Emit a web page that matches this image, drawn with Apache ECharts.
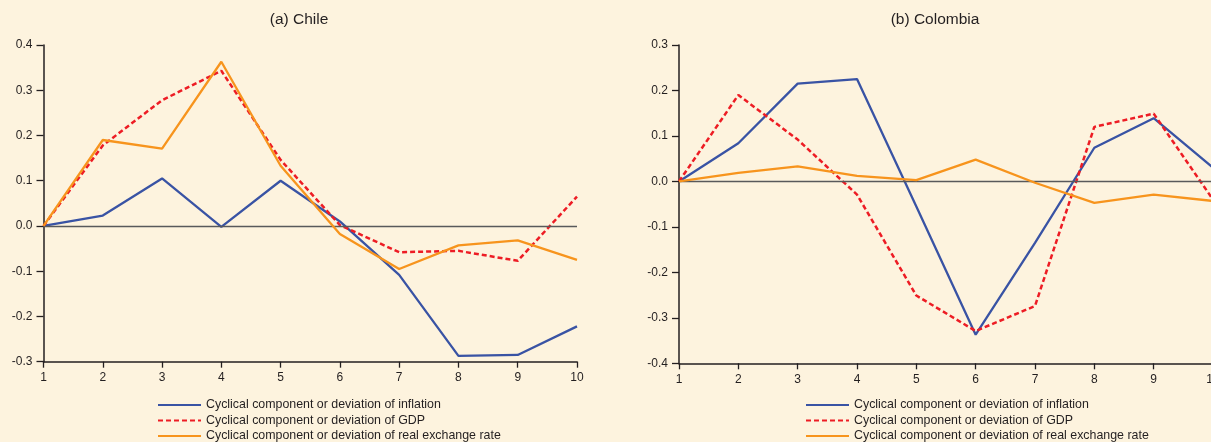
<!DOCTYPE html>
<html>
<head>
<meta charset="utf-8">
<script src="https://cdn.jsdelivr.net/npm/echarts@6/dist/echarts.min.js"></script>
<style>
html,body{margin:0;padding:0;background:#fdf3de;}
#c{width:1211px;height:442px;}
</style>
</head>
<body>
<div id="c"></div>
<script>
const periods = [1, 2, 3, 4, 5, 6, 7, 8, 9, 10];
const seriesNames = [
  'Cyclical component or deviation of inflation',
  'Cyclical component or deviation of GDP',
  'Cyclical component or deviation of real exchange rate'
];
const panelTitles = ['(a) Chile', '(b) Colombia'];

const chileInflation = [0, 0.023, 0.105, -0.002, 0.100, 0.010, -0.108, -0.287, -0.285, -0.222];
const chileGDP       = [0, 0.178, 0.278, 0.343, 0.146, 0.002, -0.058, -0.055, -0.077, 0.065];
const chileRER       = [0, 0.190, 0.171, 0.363, 0.133, -0.018, -0.095, -0.043, -0.032, -0.075];

const colInflation = [0, 0.084, 0.215, 0.225, -0.055, -0.337, -0.135, 0.074, 0.139, 0.030];
const colGDP       = [0, 0.190, 0.092, -0.029, -0.251, -0.329, -0.274, 0.120, 0.149, -0.040];
const colRER       = [0, 0.019, 0.033, 0.012, 0.003, 0.048, -0.003, -0.047, -0.029, -0.043];

const chileYTicks = { min: -0.3, max: 0.4 };
const colYTicks = { min: -0.4, max: 0.3 };

const colors = ['#3953a4', '#ed1c24', '#f7941d'];
const textColor = '#231f20';
const font = 'Liberation Sans, Arial, Helvetica, sans-serif';

function pairs(vals) { return periods.map((p, i) => [p, vals[i]]); }

function mkX(idx) {
  return {
    type: 'value', gridIndex: idx, min: 1, max: 10, interval: 1,
    axisLine: { onZero: false, lineStyle: { color: textColor, width: 1.5 } },
    axisTick: { length: 6, lineStyle: { color: textColor, width: 1.3 } },
    axisLabel: { margin: 10, color: textColor, fontSize: 12, fontFamily: font, hideOverlap: false },
    splitLine: { show: false }
  };
}
function mkY(idx, r) {
  return {
    type: 'value', gridIndex: idx, min: r.min, max: r.max, interval: 0.1,
    axisLine: { show: true, lineStyle: { color: textColor, width: 1.5 } },
    axisTick: { show: true, length: 7, lineStyle: { color: textColor, width: 1.3 } },
    axisLabel: { margin: 11, color: textColor, fontSize: 12, fontFamily: font,
      formatter: v => (Math.abs(v) < 1e-9 ? 0 : v).toFixed(1) },
    splitLine: { show: false }
  };
}
function mkSeries(idx, name, vals, k, withZero) {
  const s = {
    type: 'line', name: name, xAxisIndex: idx, yAxisIndex: idx,
    data: pairs(vals), symbol: 'none', smooth: false, z: 3 + k,
    lineStyle: { color: colors[k], width: k === 1 ? 2.5 : 2.3, type: k === 1 ? [5, 3] : 'solid' },
    itemStyle: { color: colors[k] },
    animation: false
  };
  if (withZero) {
    s.markLine = {
      silent: true, symbol: 'none', label: { show: false },
      lineStyle: { color: '#58595b', width: 1.4, type: 'solid' },
      data: [{ yAxis: 0 }], animation: false
    };
  }
  return s;
}
function mkLegend(left) {
  return {
    left: left, top: 399, height: 80, orient: 'vertical', padding: 0,
    itemWidth: 43, itemHeight: 12, itemGap: 3.5,
    selectedMode: false,
    itemStyle: { opacity: 0, borderWidth: 0 },
    textStyle: { color: textColor, fontSize: 12.4, fontFamily: font },
    data: seriesNames
  };
}

const chart = echarts.init(document.getElementById('c'), null, { renderer: 'canvas' });
chart.setOption({
  backgroundColor: '#fdf3de',
  animation: false,
  grid: [
    { left: 43.5, top: 45, width: 533.5, height: 316.7, outerBoundsMode: 'none', containLabel: false },
    { left: 679, top: 45, width: 534, height: 318.3, outerBoundsMode: 'none', containLabel: false }
  ],
  xAxis: [mkX(0), mkX(1)],
  yAxis: [mkY(0, chileYTicks), mkY(1, colYTicks)],
  legend: [mkLegend(157), mkLegend(805)],
  graphic: [
    { type: 'text', x: 299, y: 20, style: { text: panelTitles[0], fill: textColor, fontSize: 15.5, fontFamily: font, align: 'center', verticalAlign: 'middle' } },
    { type: 'text', x: 935, y: 20, style: { text: panelTitles[1], fill: textColor, fontSize: 15.5, fontFamily: font, align: 'center', verticalAlign: 'middle' } }
  ],
  series: [
    mkSeries(0, seriesNames[0], chileInflation, 0, true),
    mkSeries(0, seriesNames[1], chileGDP, 1, false),
    mkSeries(0, seriesNames[2], chileRER, 2, false),
    mkSeries(1, seriesNames[0], colInflation, 0, true),
    mkSeries(1, seriesNames[1], colGDP, 1, false),
    mkSeries(1, seriesNames[2], colRER, 2, false)
  ]
});
</script>
</body>
</html>
